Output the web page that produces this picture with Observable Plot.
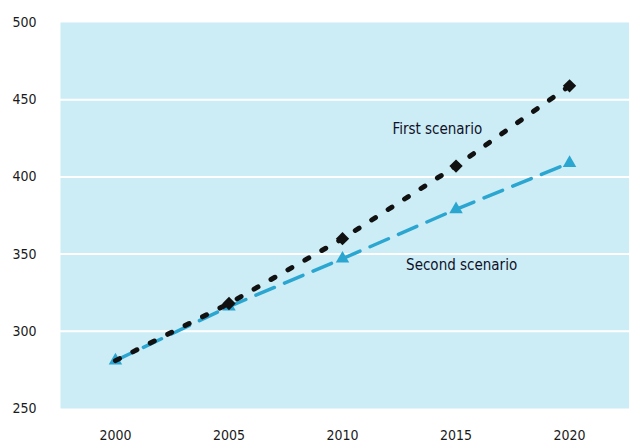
<!DOCTYPE html>
<html>
<head>
<meta charset="utf-8">
<script src="https://cdn.jsdelivr.net/npm/d3@7"></script>
<script src="https://cdn.jsdelivr.net/npm/@observablehq/plot@0.6"></script>
<style>
  html, body { margin: 0; padding: 0; background: #ffffff; }
  #chart svg { display: block; }
</style>
</head>
<body>
<div id="chart"></div>
<script>
const years = [2000, 2005, 2010, 2015, 2020];
const firstScenario = [281, 318, 360, 407, 459];
const secondScenario = [281, 316, 347, 379, 409];
const xTicks = [2000, 2005, 2010, 2015, 2020];
const yTicks = [250, 300, 350, 400, 450, 500];
const gridValues = [300, 350, 400, 450];
const seriesLabels = ["First scenario", "Second scenario"];
const labelX = [2012.2, 2012.8];
const labelY = [431, 342.5];

const first = years.map((y, i) => ({year: y, value: firstScenario[i]}));
const second = years.map((y, i) => ({year: y, value: secondScenario[i]}));
const labels = seriesLabels.map((t, i) => ({text: t, x: labelX[i], y: labelY[i]}));

const font = "'DejaVu Sans Condensed', 'DejaVu Sans', sans-serif";
const cyan = "#2ba6d1";

const plot = Plot.plot({
  width: 629,
  height: 446,
  marginLeft: 60,
  marginRight: 0,
  marginTop: 22,
  marginBottom: 38,
  style: {fontFamily: font, background: "#ffffff", color: "#1a1a1a"},
  x: {domain: [1997.58, 2022.64], ticks: xTicks, tickFormat: d3.format("d")},
  y: {domain: [250, 500], ticks: yTicks},
  marks: [
    Plot.frame({fill: "#ccedf6", stroke: null}),
    Plot.ruleY(gridValues, {stroke: "#ffffff", strokeWidth: 2}),
    Plot.axisX({ticks: xTicks, tickSize: 0, tickPadding: 22, tickFormat: d3.format("d"), fontSize: 14, fill: "#1a1a1a", label: null}),
    Plot.axisY({ticks: yTicks, tickSize: 0, tickPadding: 24, fontSize: 14, fill: "#1a1a1a", label: null}),
    Plot.line(second, {x: "year", y: "value", stroke: cyan, strokeWidth: 3.5, strokeDasharray: "20,11"}),
    Plot.dot(second, {x: "year", y: "value", symbol: "triangle", r: 5, fill: cyan, stroke: null}),
    Plot.line(first, {x: "year", y: "value", stroke: "#111111", strokeWidth: 5, strokeDasharray: "4.5,15"}),
    Plot.dot(first.slice(1), {x: "year", y: "value", symbol: "diamond2", r: 6, fill: "#111111", stroke: null}),
    Plot.text(labels, {x: "x", y: "y", text: "text", textAnchor: "start", fontSize: 15, fill: "#111128", fontFamily: font})
  ]
});
document.getElementById("chart").appendChild(plot);
</script>
</body>
</html>
